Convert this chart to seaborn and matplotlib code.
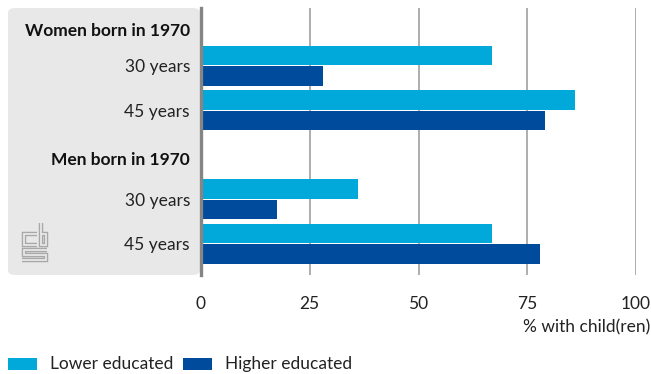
import pandas as pd
import matplotlib.pyplot as plt
import matplotlib.transforms as mtransforms
import seaborn as sns
from matplotlib.patches import FancyBboxPatch, Rectangle
from matplotlib.lines import Line2D

# data
row_keys = ['w_head', 'w30', 'w45', 'm_head', 'm30', 'm45']
row_labels = ['Women born in 1970', '30 years', '45 years',
              'Men born in 1970', '30 years', '45 years']
header_rows = ['w_head', 'm_head']
bar_rows = ['w30', 'w45', 'm30', 'm45']
lower_educated = [67, 86, 36, 67]
higher_educated = [28, 79, 17.5, 78]
series = ['Lower educated', 'Higher educated']
colors = ['#00a9da', '#004b9b']
x_ticks = [0, 25, 50, 75, 100]

df = pd.DataFrame({
    'row': bar_rows * 2,
    'value': lower_educated + higher_educated,
    'education': [series[0]] * 4 + [series[1]] * 4,
})

sns.set_style('white')
plt.rcParams['font.family'] = ['Lato', 'DejaVu Sans']
fs = 12.5
panel_color = '#e8e8e8'

fig = plt.figure(figsize=(6.51, 3.74), dpi=100)
W, H = 651, 374
ax = fig.add_axes([201 / W, 1 - 275 / H, 435 / W, 267 / H])

# grey panel behind the labels
panel = FancyBboxPatch((8 / W, 1 - 275 / H), (192 / W), 267 / H,
                       boxstyle='round,pad=0,rounding_size=0.012',
                       transform=fig.transFigure, facecolor=panel_color,
                       edgecolor='none', zorder=-1)
fig.patches.append(panel)

# small logo in the panel (outlined strokes)
logo_paths = [
    [(37, 234), (24, 234), (24, 245), (37, 245)],
    [(41, 223), (41, 245), (46, 245), (46, 234), (41, 234)],
    [(47, 250), (24, 250), (24, 255), (46, 255), (46, 260), (22, 260)],
]
for path in logo_paths:
    xs = [p[0] / W for p in path]
    ys = [1 - p[1] / H for p in path]
    fig.lines.append(Line2D(xs, ys, transform=fig.transFigure, color='#a8a8a8',
                            lw=3.2, solid_joinstyle='miter', solid_capstyle='butt'))
    fig.lines.append(Line2D(xs, ys, transform=fig.transFigure, color=panel_color,
                            lw=1.3, solid_joinstyle='miter', solid_capstyle='butt'))

sns.barplot(data=df, y='row', x='value', hue='education', order=row_keys,
            hue_order=series, palette=colors, orient='h', width=0.92,
            gap=0.06, saturation=1, legend=False, linewidth=0, ax=ax, zorder=3)

ax.set_xlim(0, 100)
ax.set_ylim(5.7, -0.3)
ax.set_xticks(x_ticks)
ax.set_xticklabels([str(t) for t in x_ticks], fontsize=fs, color='#222222')
ax.tick_params(axis='x', length=0, pad=15)
ax.set_yticks(range(len(row_keys)))
ax.set_yticklabels(row_labels, fontsize=fs, color='#222222')
ax.tick_params(axis='y', length=0, pad=8)
header_shift = {'w_head': -0.08, 'm_head': -0.04}
for lab, key in zip(ax.get_yticklabels(), row_keys):
    if key in header_rows:
        lab.set_fontweight('bold')
        lab.set_color('#111111')
        lab.set_transform(lab.get_transform() + mtransforms.ScaledTranslation(
            0, header_shift[key], fig.dpi_scale_trans))

ax.set_xlabel('')
ax.set_ylabel('')
ax.xaxis.grid(True, color='#a0a0a0', linewidth=1.2, zorder=0)
ax.set_axisbelow(True)
ax.patch.set_alpha(0)
for s in ['top', 'right', 'bottom']:
    ax.spines[s].set_visible(False)
ax.spines['left'].set_color('#858585')
ax.spines['left'].set_linewidth(2.4)
ax.spines['left'].set_zorder(5)

fig.text(650 / W, 1 - 327 / H, '% with child(ren)', ha='right', va='center',
         fontsize=fs, color='#222222')

# legend
leg_x = [8, 183]
txt_x = [50, 225]
for i, name in enumerate(series):
    fig.patches.append(Rectangle((leg_x[i] / W, 1 - 370 / H), 29 / W, 12 / H,
                                 transform=fig.transFigure, facecolor=colors[i],
                                 edgecolor='none'))
    fig.text(txt_x[i] / W, 1 - 364 / H, name, ha='left', va='center',
             fontsize=fs, color='#222222')

fig.savefig('out.png', dpi=100)
